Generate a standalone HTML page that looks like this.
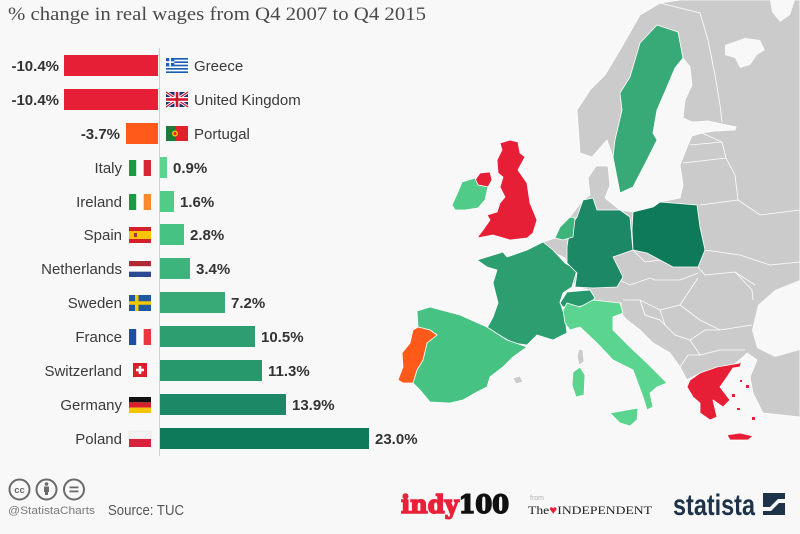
<!DOCTYPE html>
<html><head><meta charset="utf-8"><style>
html,body{margin:0;padding:0;background:#f8f8f8}
svg{display:block}
</style></head><body>
<svg width="800" height="534" viewBox="0 0 800 534" xmlns="http://www.w3.org/2000/svg">
<rect width="800" height="534" fill="#f8f8f8"/>

<!-- ============ MAP ============ -->
<g stroke="#ffffff" stroke-width="0.8" stroke-linejoin="round">
<polygon fill="#cbcbcb" points="620,50 640,15 660,3 680,0 800,0 800,417 763,413 753,393 750,377 757,360 747,353 743,357 730,368 700,373 687,380 680,367 670,353 653,343 640,330 627,320 620,312 621,303 600,305 590,300 590,290 575,287 570,270 565,258 545,248 543,242 555,238 560,227 570,217 583,200 590,195 588,178 596,166 608,166 610,185 605,198 620,210 633,212 653,207 660,202 680,198 683,185 680,165 688,145 692,136 702,133 715,131 735,130 736,127 722,124 708,121 692,122 683,118 685,100 692,85 690,67 683,58 675,68 667,87 657,110 653,133 657,140 647,160 633,187 620,193 613,157 607,140 592,157 580,153 577,110 590,90 605,75"/>
</g>
<!-- seas inside grey -->
<g fill="#f8f8f8" stroke="none">
<polygon points="725,45 745,38 760,40 765,50 757,55 750,65 740,68 735,58 725,55"/>
<polygon points="770,0 795,0 790,15 780,22 772,12"/>
<polygon points="800,280 775,290 758,305 752,330 757,348 775,357 800,350"/>
</g>
<!-- internal grey borders -->
<g fill="none" stroke="#ffffff" stroke-width="0.8">
<polyline points="660,3 700,13 708,40 715,75 720,105 722,122"/>
<polyline points="690,145 722,142"/>
<polyline points="683,163 726,158"/>
<polyline points="702,133 722,142 726,158 735,175 738,200 700,205"/>
<polyline points="738,200 760,215 800,210"/>
<polyline points="705,250 740,255 770,265 800,262"/>
<polyline points="698,267 705,275 735,272 755,285"/>
<polyline points="613,277 630,285 650,278 655,280 680,280 698,273"/>
<polyline points="623,300 640,300 660,310 680,305 698,278"/>
<polyline points="680,305 700,320 720,330 752,325"/>
<polyline points="660,310 665,325 675,335 690,340 700,355 720,350 745,350"/>
<polyline points="640,300 645,315 660,320 665,325"/>
<polyline points="633,250 645,262 660,260"/>
<polyline points="690,340 705,330 720,330"/>
<polyline points="680,367 688,355 700,355"/>
<polyline points="735,272 752,290 753,300"/>
</g>

<g stroke="#ffffff" stroke-width="0.8" stroke-linejoin="round">
<!-- Sweden -->
<polygon fill="#38aa77" points="657,25 678,32 683,58 675,68 667,87 657,110 653,133 657,140 647,160 633,187 620,193 613,157 615,140 622,110 620,93 630,77 640,43"/>
<!-- UK -->
<polygon fill="#e61f36" points="500,143 510,140 518,142 520,153 525,157 518,170 527,183 530,203 537,220 533,233 527,238 510,240 493,235 477,238 483,230 490,220 487,215 497,212 500,203 505,197 500,187 503,177 498,173 497,160 502,150"/>
<!-- Northern Ireland -->
<polygon fill="#e61f36" points="475,180 480,173 490,172 492,180 488,187 478,185"/>
<!-- Ireland -->
<polygon fill="#50cb88" points="452,205 458,192 462,182 475,178 478,185 488,187 485,200 478,208 465,210 455,210"/>
<!-- France -->
<polygon fill="#2d9e70" points="477,260 487,267 497,270 493,283 498,303 493,317 487,328 513,343 527,345 537,335 553,340 567,333 565,317 560,302 563,293 572,287 577,270 565,263 553,250 543,242 527,250 507,257 503,252"/>
<!-- Spain -->
<polygon fill="#46c283" points="417,311 430,307 460,315 487,327 507,340 527,347 513,357 503,367 490,377 487,387 477,392 463,400 450,403 430,402 420,390 413,383 417,370 423,360 427,343 437,335 430,330 418,327"/>
<!-- Portugal -->
<polygon fill="#ff5a1a" points="413,330 418,327 430,330 437,335 427,343 423,360 417,370 413,383 403,383 398,380 403,367 402,353 410,343"/>
<!-- Germany -->
<polygon fill="#1c8865" points="583,200 593,198 597,210 620,210 630,217 632,240 633,250 613,257 623,277 617,287 593,288 575,287 577,273 567,263 567,247 570,227 577,217"/>
<!-- Poland -->
<polygon fill="#0f7a5a" points="633,212 653,207 660,202 697,205 700,227 705,250 698,267 673,267 660,260 647,253 633,250 632,230"/>
<!-- Netherlands -->
<polygon fill="#3db47c" points="555,238 560,227 570,217 575,218 573,237 563,240"/>
<!-- Switzerland -->
<polygon fill="#27976c" points="563,307 560,303 567,292 590,290 595,298 588,305 575,307"/>
<!-- Italy -->
<polygon fill="#5ad48e" points="563,310 567,303 580,307 593,300 620,303 623,313 613,317 613,330 630,347 647,363 667,383 657,387 650,393 653,407 647,410 643,397 633,370 613,360 597,343 580,327 570,330 565,323"/>
<polygon fill="#5ad48e" points="610,413 638,408 637,420 630,426 620,423"/>
<polygon fill="#5ad48e" points="573,372 580,367 585,375 584,395 576,397 572,385"/>
<!-- Corsica, Balearics -->
<polygon fill="#cbcbcb" points="579,349 583,350 584,362 579,365 577,356"/>
<polygon fill="#cbcbcb" points="513,378 520,376 523,382 516,384"/>
<!-- Greece -->
<polygon fill="#e61f36" points="690,380 700,373 717,367 740,363 743,357 740,367 733,368 727,377 720,387 730,400 723,407 713,400 717,417 710,420 700,413 700,403 693,397 687,387"/>
<polygon fill="#e61f36" points="727,435 740,433 753,436 748,440 730,440"/>
</g>
<g fill="#e61f36">
<rect x="732" y="394" width="3" height="3"/><rect x="737" y="408" width="3" height="2"/><rect x="746" y="385" width="3" height="3"/><rect x="752" y="417" width="3" height="3"/><rect x="740" y="380" width="2" height="2"/>
</g>

<!-- ============ TITLE ============ -->
<text x="8" y="20" font-family="Liberation Serif, serif" font-size="19" fill="#4a4a4a" textLength="418" lengthAdjust="spacingAndGlyphs">% change in real wages from Q4 2007 to Q4 2015</text>

<!-- axis -->
<line x1="159.5" y1="48" x2="159.5" y2="456" stroke="#cfcfcf" stroke-width="1"/>

<!-- ============ BARS ============ -->
<g font-family="Liberation Sans, sans-serif" font-size="15">
<rect x="64" y="55" width="94" height="21" fill="#e61f36"/>
<text x="59" y="71" text-anchor="end" font-weight="bold" fill="#333">-10.4%</text>
<text x="194" y="71" fill="#3a3a3a">Greece</text>
<rect x="64" y="89" width="94" height="21" fill="#e61f36"/>
<text x="59" y="105" text-anchor="end" font-weight="bold" fill="#333">-10.4%</text>
<text x="194" y="105" fill="#3a3a3a">United Kingdom</text>
<rect x="126" y="123" width="32" height="21" fill="#ff5a1a"/>
<text x="120" y="139" text-anchor="end" font-weight="bold" fill="#333">-3.7%</text>
<text x="194" y="139" fill="#3a3a3a">Portugal</text>

<rect x="160" y="157" width="7" height="21" fill="#5ad48e"/>
<text x="122" y="173" text-anchor="end" fill="#3a3a3a">Italy</text>
<text x="173" y="173" font-weight="bold" fill="#333">0.9%</text>

<rect x="160" y="191" width="14" height="21" fill="#50cb88"/>
<text x="122" y="207" text-anchor="end" fill="#3a3a3a">Ireland</text>
<text x="180" y="207" font-weight="bold" fill="#333">1.6%</text>

<rect x="160" y="224" width="24" height="21" fill="#46c283"/>
<text x="122" y="240" text-anchor="end" fill="#3a3a3a">Spain</text>
<text x="190" y="240" font-weight="bold" fill="#333">2.8%</text>

<rect x="160" y="258" width="30" height="21" fill="#3db47c"/>
<text x="122" y="274" text-anchor="end" fill="#3a3a3a">Netherlands</text>
<text x="196" y="274" font-weight="bold" fill="#333">3.4%</text>

<rect x="160" y="292" width="65" height="21" fill="#38aa77"/>
<text x="122" y="308" text-anchor="end" fill="#3a3a3a">Sweden</text>
<text x="231" y="308" font-weight="bold" fill="#333">7.2%</text>

<rect x="160" y="326" width="95" height="21" fill="#2d9e70"/>
<text x="122" y="342" text-anchor="end" fill="#3a3a3a">France</text>
<text x="261" y="342" font-weight="bold" fill="#333">10.5%</text>

<rect x="160" y="360" width="102" height="21" fill="#27976c"/>
<text x="122" y="376" text-anchor="end" fill="#3a3a3a">Switzerland</text>
<text x="268" y="376" font-weight="bold" fill="#333">11.3%</text>

<rect x="160" y="394" width="126" height="21" fill="#1c8865"/>
<text x="122" y="410" text-anchor="end" fill="#3a3a3a">Germany</text>
<text x="292" y="410" font-weight="bold" fill="#333">13.9%</text>

<rect x="160" y="428" width="209" height="21" fill="#0f7a5a"/>
<text x="122" y="444" text-anchor="end" fill="#3a3a3a">Poland</text>
<text x="375" y="444" font-weight="bold" fill="#333">23.0%</text>
</g>

<!-- ============ FLAGS ============ -->
<g transform="translate(166,58)">
<rect width="22" height="15" fill="#1a5fb4"/>
<rect y="1.67" width="22" height="1.67" fill="#fff"/><rect y="5" width="22" height="1.67" fill="#fff"/><rect y="8.33" width="22" height="1.67" fill="#fff"/><rect y="11.67" width="22" height="1.67" fill="#fff"/>
<rect width="8.3" height="8.3" fill="#1a5fb4"/><rect x="3.3" width="1.67" height="8.3" fill="#fff"/><rect y="3.3" width="8.3" height="1.67" fill="#fff"/>
</g>
<g transform="translate(166,92)">
<rect width="22" height="15" fill="#1f2f74"/>
<path d="M0,0 L22,15 M22,0 L0,15" stroke="#fff" stroke-width="3"/>
<path d="M0,0 L22,15 M22,0 L0,15" stroke="#cf142b" stroke-width="1.2"/>
<rect x="8.5" width="5" height="15" fill="#fff"/><rect y="5" width="22" height="5" fill="#fff"/>
<rect x="9.7" width="2.6" height="15" fill="#cf142b"/><rect y="6.2" width="22" height="2.6" fill="#cf142b"/>
</g>
<g transform="translate(166,126)">
<rect width="22" height="15" fill="#e0202a"/><rect width="9" height="15" fill="#1e7a38"/>
<circle cx="9" cy="7.5" r="3" fill="#f2c200"/><circle cx="9" cy="7.5" r="1.5" fill="#e0202a"/>
</g>
<g transform="translate(129,160)"><rect width="7.33" height="16" fill="#1e9a45"/><rect x="7.33" width="7.33" height="16" fill="#fff"/><rect x="14.66" width="7.34" height="16" fill="#d42a34"/></g>
<g transform="translate(129,194)"><rect width="7.33" height="16" fill="#1e9a45"/><rect x="7.33" width="7.33" height="16" fill="#fff"/><rect x="14.66" width="7.34" height="16" fill="#ff8a2a"/></g>
<g transform="translate(129,227)"><rect width="22" height="16" fill="#d4202a"/><rect y="4" width="22" height="8" fill="#f7c500"/><rect x="5" y="6" width="3" height="4" fill="#a33"/></g>
<g transform="translate(129,261)"><rect width="22" height="5.33" fill="#b02a35"/><rect y="5.33" width="22" height="5.33" fill="#fff"/><rect y="10.66" width="22" height="5.34" fill="#2c4a93"/></g>
<g transform="translate(129,295)"><rect width="22" height="16" fill="#1f5a9e"/><rect x="6" width="3.5" height="16" fill="#f5c800"/><rect y="6.25" width="22" height="3.5" fill="#f5c800"/></g>
<g transform="translate(129,329)"><rect width="7.33" height="16" fill="#1f4fa0"/><rect x="7.33" width="7.33" height="16" fill="#fff"/><rect x="14.66" width="7.34" height="16" fill="#e8383f"/></g>
<g transform="translate(133,363)"><rect width="14" height="14" fill="#d9202a"/><rect x="5.7" y="3" width="2.6" height="8" fill="#fff"/><rect x="3" y="5.7" width="8" height="2.6" fill="#fff"/></g>
<g transform="translate(129,397)"><rect width="22" height="5.33" fill="#111"/><rect y="5.33" width="22" height="5.33" fill="#d8202a"/><rect y="10.66" width="22" height="5.34" fill="#f5c400"/></g>
<g transform="translate(129,431)"><rect width="22" height="8" fill="#f2f2f2" stroke="#ddd" stroke-width="0.5"/><rect y="8" width="22" height="8" fill="#d9203a"/></g>

<!-- ============ FOOTER ============ -->
<g fill="none" stroke="#6a6a6a" stroke-width="2">
<circle cx="19.5" cy="489.5" r="10"/>
<circle cx="46.5" cy="489.5" r="10"/>
<circle cx="74" cy="489.5" r="10"/>
</g>
<text x="19.5" y="493" text-anchor="middle" font-family="Liberation Sans, sans-serif" font-size="9.5" font-weight="bold" fill="#6a6a6a">cc</text>
<circle cx="46.5" cy="484" r="1.8" fill="#6a6a6a"/>
<rect x="44" y="486.5" width="5" height="5.5" fill="#6a6a6a"/>
<rect x="45" y="491" width="3" height="4" fill="#6a6a6a"/>
<rect x="69.5" y="486.5" width="9" height="1.8" fill="#6a6a6a"/>
<rect x="69.5" y="490.5" width="9" height="1.8" fill="#6a6a6a"/>

<text x="8" y="514" font-family="Liberation Sans, sans-serif" font-size="11" fill="#7a7a7a" textLength="87" lengthAdjust="spacingAndGlyphs">@StatistaCharts</text>
<text x="108" y="515" font-family="Liberation Sans, sans-serif" font-size="15" fill="#555" textLength="76" lengthAdjust="spacingAndGlyphs">Source: TUC</text>

<text x="401" y="513" font-family="DejaVu Serif, Liberation Serif, serif" font-size="25" font-weight="900" stroke-width="1.6" textLength="108" lengthAdjust="spacingAndGlyphs"><tspan fill="#e8203a" stroke="#e8203a">indy</tspan><tspan fill="#111" stroke="#111">100</tspan></text>
<text x="530" y="500" font-family="Liberation Sans, sans-serif" font-size="7" fill="#b5b5b5">from</text>
<text x="528" y="514" font-family="Liberation Serif, serif" font-size="12" fill="#222" textLength="124" lengthAdjust="spacingAndGlyphs">The<tspan fill="#e8203a">♥</tspan>INDEPENDENT</text>

<text x="673" y="515" font-family="Liberation Sans Narrow, Liberation Sans, sans-serif" font-size="30" font-weight="bold" fill="#1e3249" textLength="82" lengthAdjust="spacingAndGlyphs">statista</text>
<rect x="763" y="493" width="22" height="22" fill="#1e3249"/>
<polygon points="763,507 770,507 778,499 785,499 785,503 779,503 771,511 763,511" fill="#f8f8f8"/>
</svg>
</body></html>
